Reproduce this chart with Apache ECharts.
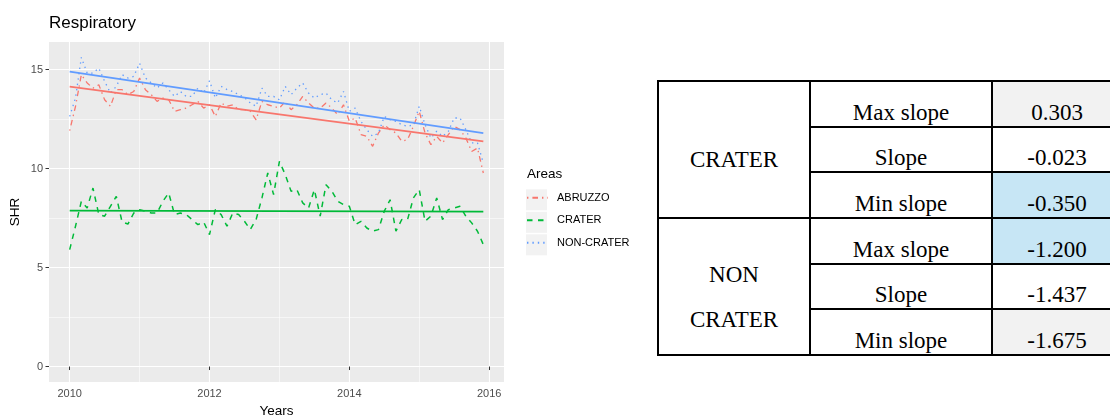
<!DOCTYPE html>
<html>
<head>
<meta charset="utf-8">
<script src="https://cdn.jsdelivr.net/npm/echarts@6/dist/echarts.min.js"></script>
<style>
  html, body { margin:0; padding:0; background:#fff; width:1110px; height:415px; overflow:hidden; }
  #chart { position:absolute; left:0; top:0; width:1110px; height:415px; }
  #tbl { position:absolute; left:657px; top:80px; border-collapse:collapse; table-layout:fixed; width:464px;
         font-family:'Liberation Serif','Times New Roman',serif; font-size:23px; color:#000; z-index:5; background:#fff; }
  #tbl td { border:2px solid #000; padding:0; text-align:center; vertical-align:bottom; line-height:26px; white-space:nowrap; }
  #tbl tr { height:45.7px; }
  #tbl td.grp { vertical-align:middle; line-height:45px; padding-top:20px; }
  #tbl td.g { background:#F2F2F2; }
  #tbl td.b { background:#C7E6F5; }
</style>
</head>
<body>
<div id="chart"></div>
<table id="tbl"><colgroup><col style="width:152px"><col style="width:182px"><col style="width:130px"></colgroup><tbody id="tbody"></tbody></table>
<script>
// ---------- data ----------
const startYear = 2010;           // first month = Jan 2010, monthly points
const seriesNames = ['ABRUZZO', 'CRATER', 'NON-CRATER'];
const abruzzo = [11.92,13.15,14.75,14.33,14.07,14.24,13.48,13.15,13.99,13.99,13.74,13.90,
                 14.58,13.99,13.74,13.40,13.57,13.48,12.90,12.98,13.06,13.23,13.40,13.06,
                 13.23,12.64,13.32,13.15,13.23,12.98,12.98,12.90,12.47,13.40,13.23,13.15,
                 13.06,13.40,12.98,13.23,13.65,13.32,13.06,13.06,13.32,13.06,12.73,13.23,
                 12.40,12.56,11.72,11.63,11.13,11.80,12.22,11.97,11.80,11.38,11.47,12.14,
                 12.90,11.80,11.21,11.63,11.30,11.72,12.14,11.97,11.55,10.87,11.04,9.78];
const crater = [5.91,7.09,8.35,8.01,9.02,7.68,7.60,8.10,8.60,7.30,7.20,7.76,
                7.93,7.85,7.76,7.76,8.35,8.77,7.68,7.76,7.68,7.43,7.17,7.30,
                6.67,7.93,7.68,7.09,7.76,7.68,7.34,6.92,7.43,8.52,9.78,8.69,
                10.37,9.70,8.86,8.94,8.27,8.01,8.94,7.60,9.19,8.86,8.35,8.18,
                8.10,7.17,7.34,7.00,6.84,6.92,7.85,8.43,6.84,7.43,7.43,8.52,
                8.94,7.34,7.60,8.52,7.43,7.93,8.01,8.10,7.60,7.26,6.84,6.16];
const nonCrater = [12.64,13.57,15.62,14.83,14.83,15.08,14.41,13.82,14.16,14.75,14.58,14.66,
                   15.33,14.58,14.33,14.07,14.33,13.99,13.65,13.90,13.65,13.65,14.07,13.82,
                   14.44,13.57,14.16,14.00,13.90,13.74,13.60,13.32,13.15,14.07,13.65,13.65,
                   13.48,14.16,13.74,14.07,14.33,13.82,13.57,13.74,13.82,13.48,13.32,13.90,
                   12.90,13.06,12.39,11.97,11.63,11.80,12.64,12.47,12.39,12.22,12.14,12.22,
                   13.15,12.22,11.55,11.89,11.63,11.89,12.56,12.56,11.97,11.30,11.30,10.29];
// linear trend (start, end) for each area
const trendAbruzzo = [14.15, 11.38];
const trendCrater = [7.88, 7.83];
const trendNonCrater = [14.90, 11.80];
// axes
const xTicks = [2010, 2012, 2014, 2016];
const xMinorTicks = [2011, 2013, 2015];
const yTicks = [0, 5, 10, 15];
const yMinorTicks = [2.5, 7.5, 12.5];
// table
const slopeGroups = ['CRATER', 'NON\nCRATER'];
const slopeLabels = ['Max slope', 'Slope', 'Min slope'];
const slopeValues = [['0.303', '-0.023', '-0.350'], ['-1.200', '-1.437', '-1.675']];

// ---------- table ----------
const cellClass = [['g', '', 'b'], ['b', '', 'g']];
const tbody = document.getElementById('tbody');
slopeGroups.forEach((g, gi) => {
  slopeLabels.forEach((lab, li) => {
    const tr = document.createElement('tr');
    if (li === 0) {
      const td = document.createElement('td');
      td.rowSpan = slopeLabels.length;
      td.className = 'grp';
      g.split('\n').forEach((line, k) => {
        if (k > 0) td.appendChild(document.createElement('br'));
        td.appendChild(document.createTextNode(line));
      });
      tr.appendChild(td);
    }
    const td2 = document.createElement('td'); td2.textContent = lab; tr.appendChild(td2);
    const td3 = document.createElement('td'); td3.textContent = slopeValues[gi][li];
    if (cellClass[gi][li]) td3.className = cellClass[gi][li];
    tr.appendChild(td3);
    tbody.appendChild(tr);
  });
});

// ---------- chart ----------
const FONT = "'Liberation Sans', Arial, Helvetica, sans-serif";
const COLORS = {'ABRUZZO': '#F8766D', 'CRATER': '#00BA38', 'NON-CRATER': '#619CFF'};
const toXY = arr => arr.map((v, i) => [startYear + i / 12, v]);
const lastX = n => startYear + (n - 1) / 12;
const trendXY = (t, n) => [[startYear, t[0]], [lastX(n), t[1]]];

const xMin = startYear - 0.05 * (lastX(abruzzo.length) - startYear);
const xMax = lastX(abruzzo.length) + 0.05 * (lastX(abruzzo.length) - startYear);
const yDataMax = Math.max(...abruzzo, ...crater, ...nonCrater);
const yMin = 0 - 0.05 * yDataMax;
const yMax = yDataMax + 0.05 * yDataMax;

const chart = echarts.init(document.getElementById('chart'), null, {renderer: 'canvas'});

function dataSeries(name, arr, dash, width) {
  return {
    name, type: 'line', data: toXY(arr), symbol: 'none', showSymbol: false,
    xAxisIndex: 0, yAxisIndex: 0, z: 3,
    lineStyle: {color: COLORS[name], width: width, type: dash, cap: 'butt'},
    itemStyle: {color: COLORS[name]},
    emphasis: {disabled: true}, animation: false
  };
}
function trendSeries(name, t, n) {
  return {
    name: name + ' trend', type: 'line', data: trendXY(t, n), symbol: 'none', showSymbol: false,
    xAxisIndex: 0, yAxisIndex: 0, z: 4,
    lineStyle: {color: COLORS[name], width: 1.8, type: 'solid'},
    emphasis: {disabled: true}, animation: false
  };
}

const keyTop = 189.3, keyStep = 22.5, keySize = 21;
const option = {
  animation: false,
  backgroundColor: '#ffffff',
  title: [
    {text: 'Respiratory', left: 49, top: 15, padding: 0,
     textStyle: {fontSize: 17, fontWeight: 'normal', color: '#000', fontFamily: FONT}},
    {text: 'Areas', left: 527, top: 167, padding: 0,
     textStyle: {fontSize: 13.5, fontWeight: 'normal', color: '#000', fontFamily: FONT}}
  ],
  grid: {left: 49, top: 42, width: 455, height: 340, show: true, backgroundColor: '#EBEBEB',
         borderWidth: 0, containLabel: false, outerBoundsMode: 'none'},
  legend: seriesNames.map((n, i) => ({
    data: [n], orient: 'vertical', left: 526, top: keyTop + i * keyStep, padding: 0,
    itemWidth: keySize, itemHeight: keySize, itemGap: 0, selectedMode: false,
    itemStyle: {color: 'rgba(0,0,0,0)', borderColor: 'rgba(0,0,0,0)', borderWidth: 0, opacity: 0},
    textStyle: {fontSize: 11, color: '#000', fontFamily: FONT, padding: [0, 0, 0, 4]}
  })),
  graphic: seriesNames.map((n, i) => ({
    type: 'rect', left: 526, top: keyTop + i * keyStep, z: -10, silent: true,
    shape: {width: keySize, height: keySize}, style: {fill: '#F2F2F2'}
  })),
  xAxis: [
    {type: 'value', min: xMin, max: xMax, position: 'bottom',
     axisLine: {show: false},
     axisTick: {show: true, length: 3.5, lineStyle: {color: '#333333', width: 1}, customValues: xTicks},
     axisLabel: {show: true, customValues: xTicks, color: '#4D4D4D', fontSize: 11, fontFamily: FONT, margin: 6,
                 formatter: v => String(Math.round(v))},
     splitLine: {show: true, lineStyle: {color: '#FFFFFF', width: 1.1}},
     name: 'Years', nameLocation: 'middle', nameGap: 22,
     nameTextStyle: {fontSize: 13.5, color: '#000', fontFamily: FONT}},
    {type: 'value', min: xMin, max: xMax, position: 'bottom',
     axisLine: {show: false},
     axisTick: {show: false, customValues: xMinorTicks},
     axisLabel: {show: false, customValues: xMinorTicks},
     splitLine: {show: true, lineStyle: {color: '#FFFFFF', width: 0.55}}}
  ],
  yAxis: [
    {type: 'value', min: yMin, max: yMax, position: 'left',
     axisLine: {show: false},
     axisTick: {show: true, length: 3.5, lineStyle: {color: '#333333', width: 1}, customValues: yTicks},
     axisLabel: {show: true, customValues: yTicks, color: '#4D4D4D', fontSize: 11, fontFamily: FONT, margin: 6,
                 formatter: v => String(Math.round(v))},
     splitLine: {show: true, lineStyle: {color: '#FFFFFF', width: 1.1}},
     name: 'SHR', nameLocation: 'middle', nameGap: 27, nameRotate: 90,
     nameTextStyle: {fontSize: 13.5, color: '#000', fontFamily: FONT}},
    {type: 'value', min: yMin, max: yMax, position: 'left',
     axisLine: {show: false},
     axisTick: {show: false, customValues: yMinorTicks},
     axisLabel: {show: false, customValues: yMinorTicks},
     splitLine: {show: true, lineStyle: {color: '#FFFFFF', width: 0.55}}}
  ],
  series: [
    dataSeries('ABRUZZO', abruzzo, [1.4, 4, 5.6, 4], 1.3),
    dataSeries('CRATER', crater, [5.5, 5.5], 1.5),
    dataSeries('NON-CRATER', nonCrater, [1.4, 4], 1.3),
    trendSeries('ABRUZZO', trendAbruzzo, abruzzo.length),
    trendSeries('CRATER', trendCrater, crater.length),
    trendSeries('NON-CRATER', trendNonCrater, nonCrater.length)
  ]
};
chart.setOption(option);
</script>
</body>
</html>
